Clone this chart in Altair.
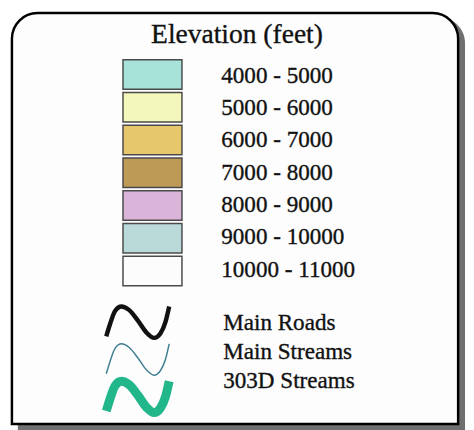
import altair as alt
import pandas as pd

TITLE = "Elevation (feet)"
ELEV_LABELS = ["4000 - 5000", "5000 - 6000", "6000 - 7000", "7000 - 8000",
               "8000 - 9000", "9000 - 10000", "10000 - 11000"]
ELEV_COLORS = ["#a7e3d9", "#f4f7bb", "#e6c76b", "#bd9a55", "#dbb5d9", "#b9dad8", "#fcfcfc"]
LINE_LABELS = ["Main Roads", "Main Streams", "303D Streams"]
LINE_COLORS = ["#111111", "#3e7f92", "#22b68b"]
LINE_WIDTHS = [4.5, 1.5, 9]
# wave glyph (phase, vertical offset in row units; positive = down)
WAVE_T = [0.0, 0.06, 0.14, 0.24, 0.36, 0.5, 0.64, 0.76, 0.86, 0.94, 1.0]
WAVE_W = [0.38, 0.05, -0.3, -0.42, -0.33, -0.05, 0.28, 0.42, 0.3, 0.0, -0.42]

FONT = "Liberation Serif"
TEXT_STYLE = dict(font=FONT, color="#111111", stroke="#111111", strokeWidth=0.35)

elev_df = pd.DataFrame({"label": ELEV_LABELS})
lab_df = pd.DataFrame({"name": LINE_LABELS})
rows = []
for i, name in enumerate(LINE_LABELS):
    for k, (t, w) in enumerate(zip(WAVE_T, WAVE_W)):
        rows.append({"name": name, "t": t, "level": i + w, "k": k})
line_df = pd.DataFrame(rows)
one = pd.DataFrame({"title": [TITLE]})

shadow = alt.Chart(one).mark_rect(
    fill="#707070", cornerRadiusTopRight=26, cornerRadiusTopLeft=26
).encode(x=alt.value(10), x2=alt.value(465), y=alt.value(6), y2=alt.value(430))

frame = alt.Chart(one).mark_rect(
    fill="#fdfdfd", stroke="#000000", strokeWidth=2.5,
    cornerRadiusTopRight=26, cornerRadiusTopLeft=26
).encode(x=alt.value(4), x2=alt.value(458), y=alt.value(1.5), y2=alt.value(419.5))

title = alt.Chart(one).mark_text(
    fontSize=28, align="center", baseline="alphabetic", **TEXT_STYLE
).encode(x=alt.value(233), y=alt.value(32), text="title:N")

yband = alt.Y("label:N", sort=ELEV_LABELS, axis=None,
              scale=alt.Scale(domain=ELEV_LABELS, range=[49, 279], paddingInner=0.1, paddingOuter=0))

swatches = alt.Chart(elev_df).mark_rect(stroke="#4a4a4a", strokeWidth=1.5).encode(
    x=alt.value(117), x2=alt.value(177), y=yband,
    fill=alt.Fill("label:N", scale=alt.Scale(domain=ELEV_LABELS, range=ELEV_COLORS), legend=None),
)

elev_text = alt.Chart(elev_df).mark_text(
    fontSize=23.5, align="left", baseline="middle", **TEXT_STYLE
).encode(x=alt.value(217), y=yband, text="label:N")

xs = alt.X("t:Q", axis=None, scale=alt.Scale(domain=[0, 1], range=[100, 164]))
ys = alt.Y("level:Q", axis=None, scale=alt.Scale(domain=[-0.5, 2.5], range=[297, 411]))
line_layers = []
for name, col, sw in zip(LINE_LABELS, LINE_COLORS, LINE_WIDTHS):
    line_layers.append(
        alt.Chart(line_df).transform_filter(alt.datum.name == name)
        .mark_line(interpolate="monotone", color=col, strokeWidth=sw)
        .encode(x=xs, y=ys, order="k:Q")
    )

line_text = alt.Chart(lab_df).mark_text(
    fontSize=23.5, align="left", baseline="middle", **TEXT_STYLE
).encode(
    x=alt.value(219),
    y=alt.Y("name:N", sort=LINE_LABELS, axis=None,
            scale=alt.Scale(type="point", domain=LINE_LABELS, range=[317, 376], padding=0)),
    text="name:N",
)

chart = alt.layer(shadow, frame, title, swatches, elev_text, *line_layers, line_text).resolve_scale(
    x="independent", y="independent", fill="independent"
).properties(
    width=466, height=422, padding=0, autosize=alt.AutoSizeParams(type="none")
).configure_view(strokeWidth=0)

chart.save("out.html", embed_options={"renderer": "svg", "actions": False})
